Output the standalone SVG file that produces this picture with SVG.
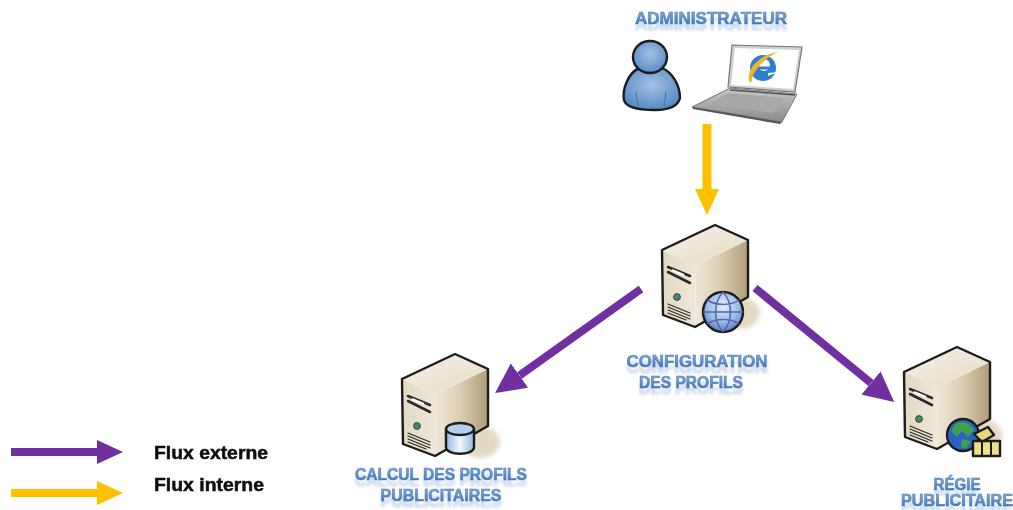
<svg xmlns="http://www.w3.org/2000/svg" xmlns:xlink="http://www.w3.org/1999/xlink" width="1013" height="510" viewBox="0 0 1013 510">
<style>
.lbl{font-family:"Liberation Sans",Arial,sans-serif;font-weight:bold;font-size:16px;fill:url(#txt);stroke:#4a7dbb;stroke-width:.5;filter:url(#refl);text-anchor:middle}
.leg{font-family:"Liberation Sans",Arial,sans-serif;font-weight:bold;font-size:18px;fill:#111;stroke:#111;stroke-width:.5;filter:url(#soft)}
.o{stroke:#1c1c1c;stroke-width:2.4;stroke-linejoin:round}
.fl{fill:none;stroke:#2b2b2b;stroke-linecap:round}
.pf{stroke:#7030a0;fill:none;stroke-width:8}
.yf{stroke:#ffc000;fill:none;stroke-width:9}
</style>
<defs>
<linearGradient id="txt" x1="0" y1="0" x2="0" y2="1"><stop offset="0" stop-color="#86aedd"/><stop offset="1" stop-color="#3a6fb0"/></linearGradient>
<filter id="refl" x="-10%" y="-30%" width="120%" height="190%"><feGaussianBlur in="SourceGraphic" stdDeviation=".5" result="s"/><feOffset in="SourceGraphic" dy="6" result="o"/><feGaussianBlur in="o" stdDeviation="1.8" result="b"/><feComponentTransfer in="b" result="f"><feFuncA type="linear" slope=".35"/></feComponentTransfer><feMerge><feMergeNode in="f"/><feMergeNode in="s"/></feMerge></filter>
<filter id="soft"><feGaussianBlur stdDeviation=".45"/></filter>
<filter id="sh" x="-30%" y="-30%" width="160%" height="160%"><feGaussianBlur stdDeviation=".7"/></filter>
<filter id="big" x="-30%" y="-30%" width="160%" height="160%"><feGaussianBlur stdDeviation="2"/></filter>
<linearGradient id="top" x1="0" y1="0" x2="1" y2="1"><stop offset="0" stop-color="#f6f1e5"/><stop offset="1" stop-color="#e6dcc8"/></linearGradient>
<linearGradient id="front" x1="0" y1="0" x2="1" y2="0"><stop offset="0" stop-color="#e3d9c2"/><stop offset="1" stop-color="#efe8d8"/></linearGradient>
<linearGradient id="side" x1="0" y1="0" x2="1" y2="0"><stop offset="0" stop-color="#efe8d8"/><stop offset=".45" stop-color="#dcd0b6"/><stop offset="1" stop-color="#b09d78"/></linearGradient>
<radialGradient id="globe" cx=".5" cy=".35" r=".7"><stop offset="0" stop-color="#e4eefa"/><stop offset=".55" stop-color="#9cbde8"/><stop offset="1" stop-color="#4470c0"/></radialGradient>
<radialGradient id="pers" cx=".5" cy=".4" r=".65"><stop offset="0" stop-color="#a5c1e3"/><stop offset="1" stop-color="#4f86c0"/></radialGradient>
<linearGradient id="cyl" x1="0" y1="0" x2="1" y2="0"><stop offset="0" stop-color="#8db8e2"/><stop offset=".5" stop-color="#f1f7fd"/><stop offset="1" stop-color="#8db8e2"/></linearGradient>
<linearGradient id="lap" x1="0" y1="0" x2="0" y2="1"><stop offset="0" stop-color="#c8c8c8"/><stop offset="1" stop-color="#8a8a8a"/></linearGradient>
<marker id="mp" markerUnits="userSpaceOnUse" markerWidth="26" markerHeight="24" refX="0" refY="12" orient="auto"><path d="M0 0L26 12L0 24z" fill="#7030a0"/></marker>
<marker id="mpb" markerUnits="userSpaceOnUse" markerWidth="30" markerHeight="30" refX="0" refY="15" orient="auto"><path d="M0 0L30 15L0 30z" fill="#7030a0"/></marker>
<marker id="my" markerUnits="userSpaceOnUse" markerWidth="26" markerHeight="24" refX="0" refY="12" orient="auto"><path d="M0 0L26 12L0 24z" fill="#ffc000"/></marker>
<g id="srv">
<ellipse cx="78" cy="88" rx="20" ry="16" fill="#e4dac4" filter="url(#big)"/>
<g filter="url(#sh)">
<path d="M34 40L86 15V72L33 102z" fill="url(#side)"/>
<path d="M0 25L34 40L33 102L1 90z" fill="url(#front)"/>
<path d="M0 25L53 0L86 15L34 40z" fill="url(#top)"/>
<path class="o" fill="none" d="M0 25L53 0L86 15V72L33 102L1 90z"/>
<path class="fl" stroke-width="2.6" d="M6 42L28 51M6 47L28 58"/>
<path d="M10 45L22 50" stroke="#fff" stroke-width="2"/>
<circle cx="15" cy="72" r="3.4" fill="#3f8a78" stroke="#444"/>
<path class="fl" stroke-width="1.2" d="M6 79L28 88M6 82L28 91M6 85L28 94M6 88L24 95"/>
</g>
</g>
</defs>
<g id="connectors">
<path class="yf" d="M707 124V189" marker-end="url(#my)"/>
<path class="pf" d="M641 289L519.500 375.600" marker-end="url(#mpb)"/>
<path class="pf" d="M755 288L871 383" marker-end="url(#mpb)"/>
<path class="pf" d="M11 452H97" marker-end="url(#mp)"/>
<path class="yf" d="M11 493H97" style="stroke-width:8" marker-end="url(#my)"/>
</g>
<g id="node-admin">
<g filter="url(#sh)">
<path class="o" d="M640 68C628 72 622 90 624 100C626 108 640 110 655 110C670 110 678 106 680 98C680 85 672 72 662 68z" fill="url(#pers)"/>
<path d="M636 92L638 106M666 92L664 106" stroke="#3f70a8" stroke-width="1" fill="none"/>
<ellipse class="o" cx="650" cy="57" rx="17" ry="16" fill="url(#pers)"/>
<path d="M732 45L802 47L795 92L728 87z" fill="#cfcfcf" stroke="#777" stroke-width="1.2"/>
<path d="M735 48L799 50L793 89L731 85z" fill="#fff"/>
<path d="M730 88L797 94L782 122L692 107z" fill="url(#lap)" stroke="#777"/>
<path d="M692 107L782 122L780 124L693 109z" fill="#555"/>
<path d="M728 93L785 98L774 113L710 104z" fill="#a8a8a8"/>
<path d="M730 90L795 95" stroke="#555" stroke-width="1.5"/>
<circle cx="763" cy="68" r="13" fill="#2f7fd0"/>
<circle cx="764" cy="65" r="6" fill="#fff"/>
<path d="M755 68H776" stroke="#2f7fd0" stroke-width="3"/>
<path d="M768 76L778 72L768 73z" fill="#fff"/>
<path d="M750 83C744 70 760 54 778 52C768 56 752 70 752 81z" fill="#f0b428"/>
</g>
<text class="lbl" x="711" y="24" textLength="152" lengthAdjust="spacingAndGlyphs">ADMINISTRATEUR</text>
</g>
<g id="node-config">
<use xlink:href="#srv" href="#srv" x="662" y="225"/>
<g filter="url(#sh)">
<circle class="o" cx="723" cy="312" r="20" fill="url(#globe)"/>
<path d="M703 312H743M723 292C713 303 713 321 723 332M723 292C733 303 733 321 723 332M707 300C717 306 730 306 739 300M707 324C717 318 730 318 739 324" fill="none" stroke="#5a64a8" stroke-width="1.5"/>
</g>
<text class="lbl" x="697" y="367" textLength="141" lengthAdjust="spacingAndGlyphs">CONFIGURATION</text>
<text class="lbl" x="691" y="388" textLength="104" lengthAdjust="spacingAndGlyphs">DES PROFILS</text>
</g>
<g id="node-calcul">
<use xlink:href="#srv" href="#srv" x="402" y="354"/>
<g filter="url(#sh)">
<path class="o" d="M446 429V447C446 456 474 456 474 447V429z" fill="url(#cyl)"/>
<ellipse class="o" cx="460" cy="429" rx="14" ry="6" fill="#b4d0ec"/>
</g>
<text class="lbl" x="441" y="480" textLength="172" lengthAdjust="spacingAndGlyphs">CALCUL DES PROFILS</text>
<text class="lbl" x="441" y="501" textLength="121" lengthAdjust="spacingAndGlyphs">PUBLICITAIRES</text>
</g>
<g id="node-regie">
<use xlink:href="#srv" href="#srv" x="904" y="347"/>
<g filter="url(#sh)">
<circle class="o" cx="963" cy="435" r="16" fill="#2a62c8"/>
<path d="M955 424C962 420 971 423 974 430L968 437L962 431L957 437L951 431zM962 439L971 441L966 449L961 447z" fill="#3fa04a"/>
<path class="o" d="M974 434L988 427L994 435L982 442z" fill="#e8d878"/>
<rect class="o" x="973" y="441" width="27" height="15" fill="#efe08a"/>
<path d="M982 441V456M991 441V456" stroke="#1c1c1c" stroke-width="2"/>
</g>
<text class="lbl" x="957" y="490" textLength="47" lengthAdjust="spacingAndGlyphs">RÉGIE</text>
<text class="lbl" x="957" y="506" textLength="112" lengthAdjust="spacingAndGlyphs">PUBLICITAIRE</text>
</g>
<g id="legend">
<text class="leg" x="154" y="459" textLength="114" lengthAdjust="spacingAndGlyphs">Flux externe</text>
<text class="leg" x="154" y="491" textLength="110" lengthAdjust="spacingAndGlyphs">Flux interne</text>
</g>
</svg>
